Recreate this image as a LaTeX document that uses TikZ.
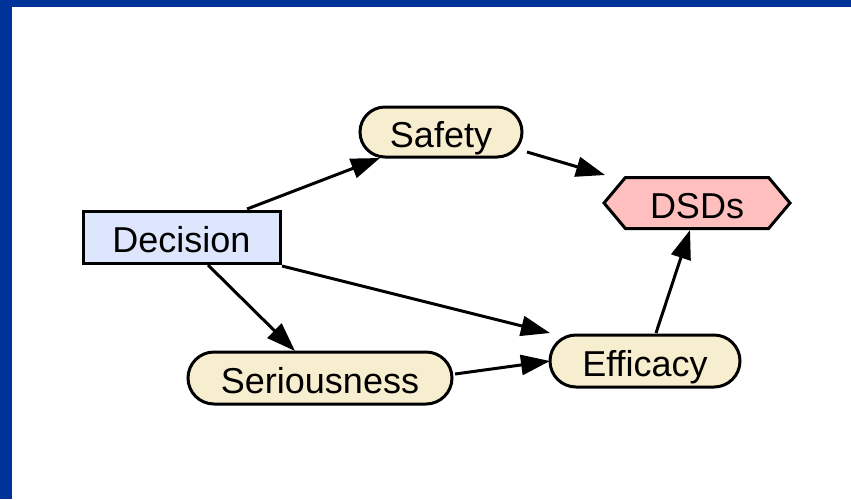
\documentclass[tikz,border=0pt]{standalone}
\usepackage{fontspec}
\setmainfont{Liberation Sans}
\usetikzlibrary{arrows.meta,shapes.misc,shapes.symbols}
\definecolor{bluebar}{HTML}{003399}
\definecolor{decfill}{HTML}{DDE6FD}
\definecolor{pillfill}{HTML}{F7EDCF}
\definecolor{dsdfill}{HTML}{FFBFBF}
\begin{document}
\begin{tikzpicture}[x=1pt,y=-1pt,
  base/.style={draw=black, line width=3pt, inner sep=0pt, font=\fontsize{36}{40}\selectfont, text=black, text height=30pt, text depth=0pt},
  decbox/.style={base, rectangle, fill=decfill, minimum width=197pt, minimum height=52pt},
  pill/.style={base, rounded rectangle, fill=pillfill, minimum height=50pt},
  hexbox/.style={base, signal, signal to=west and east, signal pointer angle=100, fill=dsdfill, minimum width=186pt, minimum height=51pt},
  conn/.style={line width=3pt, -{Triangle[length=29pt,width=20pt]}}
]
\useasboundingbox (0,0) rectangle (851,499);
\fill[bluebar] (0,0) rectangle (851,7);
\fill[bluebar] (0,0) rectangle (12,499);

\node[decbox] (dec) at (181.5,237) {Decision};
\node[pill, minimum width=162pt] (saf) at (441,132) {Safety};
\node[hexbox] (dsd) at (697,203) {DSDs};
\node[pill, minimum width=264pt, minimum height=52pt] (ser) at (320,378) {Seriousness};
\node[pill, minimum width=190pt, minimum height=52pt] (eff) at (645,361) {Efficacy};

\draw[conn] ([shift={(65.5,-28)}]dec.center) -- ([shift={(-61,26)}]saf.center);
\draw[conn] ([shift={(86,20)}]saf.center) -- ([shift={(-92,-28)}]dsd.center);
\draw[conn] ([shift={(100.5,29)}]dec.center) -- ([shift={(-95,-28)}]eff.center);
\draw[conn] ([shift={(26.5,28)}]dec.center) -- ([shift={(-25,-27)}]ser.center);
\draw[conn] ([shift={(135,-4)}]ser.center) -- ([shift={(-95,0)}]eff.center);
\draw[conn] ([shift={(11,-28)}]eff.center) -- ([shift={(-7,27)}]dsd.center);
\end{tikzpicture}
\end{document}
